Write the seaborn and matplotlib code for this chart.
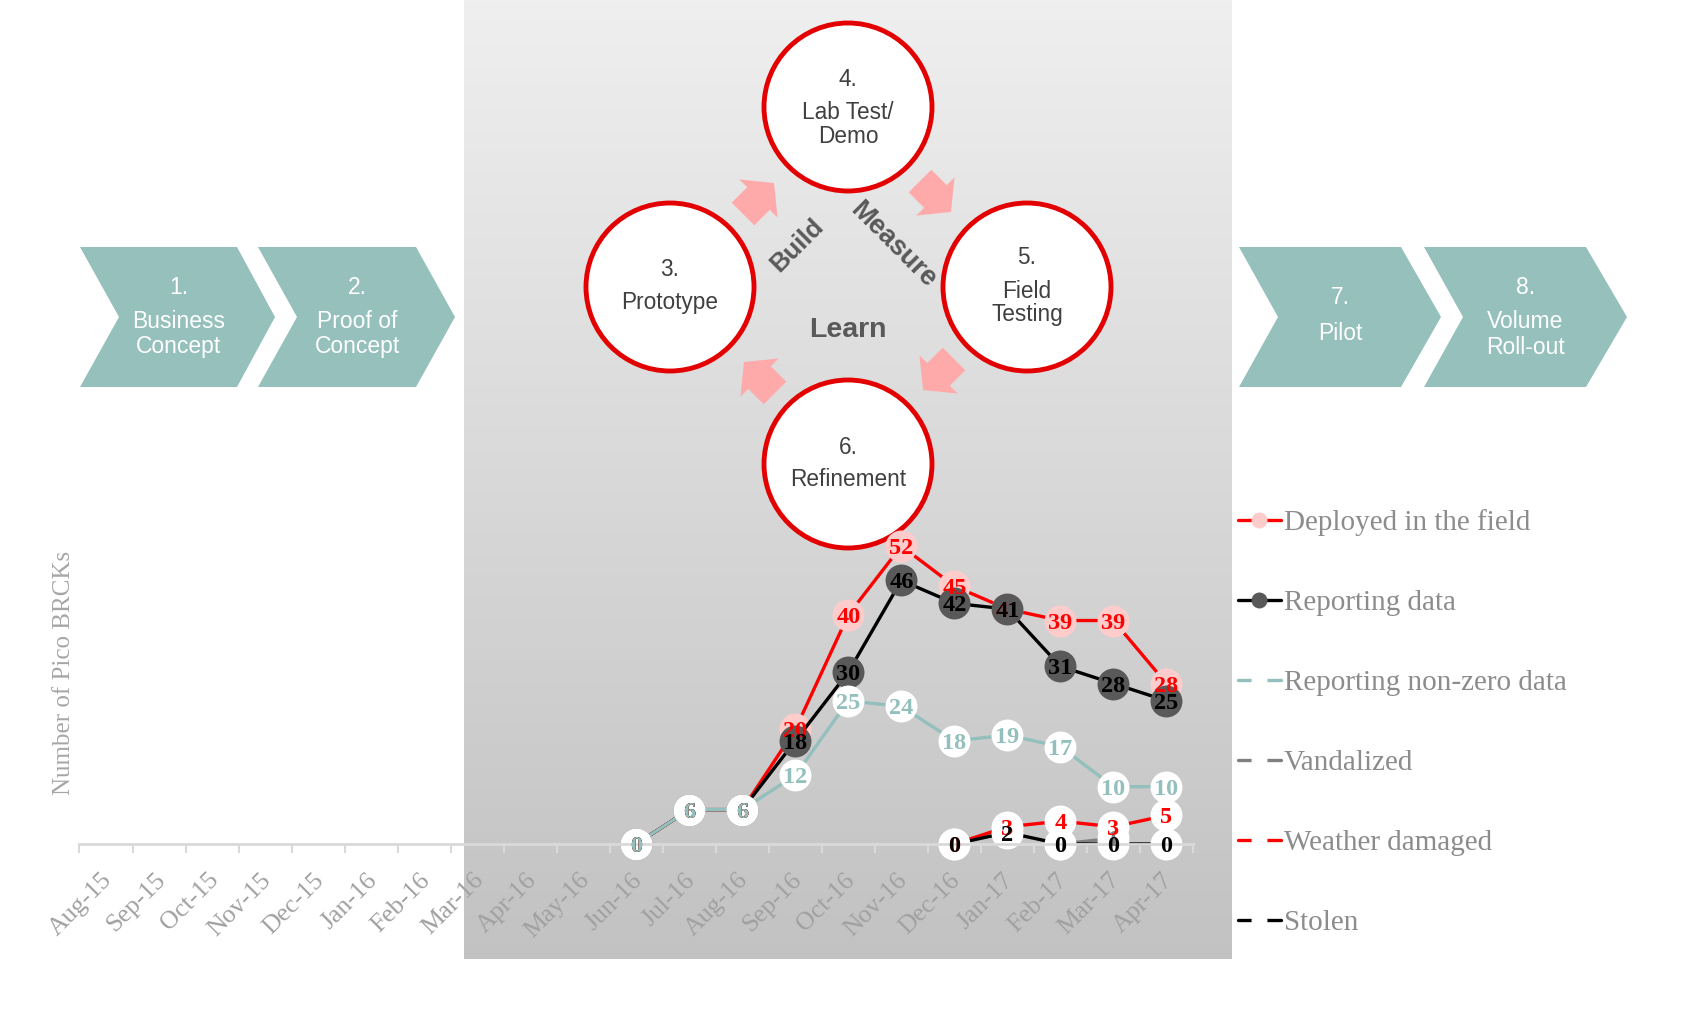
import matplotlib
matplotlib.use("Agg")
import matplotlib.pyplot as plt
import matplotlib.transforms as mtransforms
import numpy as np
import pandas as pd
import seaborn as sns
from matplotlib.colors import LinearSegmentedColormap
from matplotlib.patches import Circle, FancyArrow, Polygon

# Chart data (months Aug-15 .. Apr-17)
months = ["Aug-15", "Sep-15", "Oct-15", "Nov-15", "Dec-15", "Jan-16", "Feb-16",
          "Mar-16", "Apr-16", "May-16", "Jun-16", "Jul-16", "Aug-16", "Sep-16",
          "Oct-16", "Nov-16", "Dec-16", "Jan-17", "Feb-17", "Mar-17", "Apr-17"]
series_names = ["Deployed in the field", "Reporting data", "Reporting non-zero data",
                "Vandalized", "Weather damaged", "Stolen"]
deployed = [None] * 10 + [0, 6, 6, 20, 40, 52, 45, 41, 39, 39, 28]
reporting = [None] * 10 + [0, 6, 6, 18, 30, 46, 42, 41, 31, 28, 25]
nonzero = [None] * 10 + [0, 6, 6, 12, 25, 24, 18, 19, 17, 10, 10]
vandalized = [None] * 18 + [0, 1, None]
weather = [None] * 16 + [0, 3, 4, 3, 5]
stolen = [None] * 16 + [0, 2, 0, 0, 0]

# Diagram text
chevron_texts = [["1.", "Business", "Concept"], ["2.", "Proof of", "Concept"],
                 ["7.", "Pilot"], ["8.", "Volume", "Roll-out"]]
circle_texts = [["4.", "Lab Test/", "Demo"], ["3.", "Prototype"],
                ["5.", "Field", "Testing"], ["6.", "Refinement"]]

W, H = 1706, 1019

sns.set_theme(style="white")
plt.rcParams["font.family"] = ["Liberation Serif", "DejaVu Serif"]

fig = plt.figure(figsize=(W / 100, H / 100), dpi=100)

# Background layer in pixel coordinates
bg = fig.add_axes([0, 0, 1, 1])
grad = LinearSegmentedColormap.from_list("panel", ["#efefef", "#c2c2c2"])
bg.imshow(np.linspace(0, 1, 256).reshape(-1, 1), cmap=grad, aspect="auto",
          extent=[464, 1232, 959, 0], zorder=0)
bg.set_xlim(0, W)
bg.set_ylim(H, 0)
bg.axis("off")

sans = ["Liberation Sans", "DejaVu Sans"]

# Chevrons: left, notch, right, tip
chev_top, chev_bot = 247, 387
chev_mid = (chev_top + chev_bot) / 2
chevrons = [(80, 119, 237, 275), (258, 297, 416, 455),
            (1239, 1278, 1401, 1441), (1424, 1463, 1586, 1627)]
chev_text_y = [[287, 322, 347], [287, 322, 347], [298, 333], [287, 322, 347]]
for (left, notch, right, tip), lines, ys in zip(chevrons, chevron_texts, chev_text_y):
    pts = [(left, chev_top), (right, chev_top), (tip, chev_mid),
           (right, chev_bot), (left, chev_bot), (notch, chev_mid)]
    bg.add_patch(Polygon(pts, closed=True, fc="#95c0bc", ec="none", zorder=2))
    cx = (notch + right) / 2 + 1
    for txt, y in zip(lines, ys):
        bg.text(cx, y, txt, ha="center", va="center", color="white",
                fontsize=16.5, family=sans, zorder=3)

# Circles
circles = [(848, 107), (670, 287), (1027, 287), (848, 464)]
circ_text_y = [[79, 112, 136], [270, 303], [258, 291, 315], [447, 480]]
for (cx, cy), lines, ys in zip(circles, circle_texts, circ_text_y):
    bg.add_patch(Circle((cx, cy), 84, fc="white", ec="#e30000", lw=3.5, zorder=3))
    for txt, y in zip(lines, ys):
        bg.text(cx, y, txt, ha="center", va="center", color="#404040",
                fontsize=16.3, family=sans, zorder=4)

# Pink arrows (tail -> tip)
arrows = [((743, 214), (774, 183)), ((920, 181), (951, 212)),
          ((954, 359), (923, 390)), ((775, 393), (744, 362))]
for (x0, y0), (x1, y1) in arrows:
    bg.add_patch(FancyArrow(x0, y0, x1 - x0, y1 - y0, width=32, head_width=54,
                            head_length=22, length_includes_head=True,
                            fc="#ffaaaa", ec="none", zorder=2))

sans_bold = dict(color="#595959", fontweight="bold", family=sans, zorder=4)
bg.text(797, 245, "Build", ha="center", va="center", rotation=45, fontsize=18.5, **sans_bold)
bg.text(893, 245, "Measure", ha="center", va="center", rotation=-45, fontsize=19.5, **sans_bold)
bg.text(848, 330, "Learn", ha="center", va="center", fontsize=20.5, **sans_bold)

bg.text(64, 673, "Number of Pico BRCKs", ha="center", va="center", rotation=90,
        fontsize=18, color="#a6a6a6")

# Line chart
y_max = 60
px_per_unit = 5.73
x_left, x_right, y_zero = 79.5, 1193, 844
ax = fig.add_axes([x_left / W, 1 - y_zero / H, (x_right - x_left) / W,
                   px_per_unit * y_max / H])
ax.patch.set_alpha(0)

all_series = [deployed, reporting, nonzero, vandalized, weather, stolen]
line_colors = ["#ff0000", "#000000", "#93c0bc", "#808080", "#ff0000", "#000000"]
face_colors = ["#ffcccc", "#595959", "#ffffff", "#ffffff", "#ffffff", "#ffffff"]
label_colors = ["#ff0000", "#000000", "#93c0bc", "#808080", "#ff0000", "#000000"]

handles = []
for name, vals, lc, fc in zip(series_names, all_series, line_colors, face_colors):
    df = pd.DataFrame({"idx": range(len(months)), "value": vals}).dropna()
    sns.lineplot(data=df, x="idx", y="value", ax=ax, color=lc, linewidth=2.4,
                 marker="o", markersize=23, markerfacecolor=fc, markeredgewidth=0,
                 clip_on=False)
    handles.append(ax.get_lines()[-1])

# Data labels sit above every marker
for vals, col in zip(all_series, label_colors):
    for i, v in enumerate(vals):
        if v is None:
            continue
        ax.text(i, v, str(v), ha="center", va="center_baseline", color=col,
                fontsize=17.5, fontweight="bold", zorder=10, clip_on=False)

ax.set_xlim(-0.5, len(months) - 0.5)
ax.set_ylim(0, y_max)
ax.set_xlabel("")
ax.set_ylabel("")
for side in ["left", "right", "top"]:
    ax.spines[side].set_visible(False)
ax.spines["bottom"].set_color("#d9d9d9")
ax.spines["bottom"].set_linewidth(2)
ax.set_yticks([])
ax.set_xticks(range(len(months)))
ax.set_xticklabels(months, rotation=45, ha="right", rotation_mode="anchor")
ax.set_xticks(np.arange(-0.5, len(months), 1), minor=True)
ax.tick_params(axis="x", which="major", length=0, pad=18, labelsize=18.5,
               labelcolor="#a0a0a0")
ax.tick_params(axis="x", which="minor", length=6.5, width=1.5, color="#d9d9d9",
               direction="out", bottom=True)
shift = mtransforms.ScaledTranslation(-5 / 100, 0, fig.dpi_scale_trans)
for lab in ax.get_xticklabels():
    lab.set_transform(lab.get_transform() + shift)

ax.legend(handles, series_names, loc="upper left", bbox_to_anchor=(1238, 509),
          bbox_transform=bg.transData, frameon=False, fontsize=21, markerscale=0.5,
          handlelength=1.47, handletextpad=0.1, labelspacing=1.84, borderpad=0,
          borderaxespad=0, labelcolor="#8c8c8c")

fig.savefig("out.png", dpi=100)
